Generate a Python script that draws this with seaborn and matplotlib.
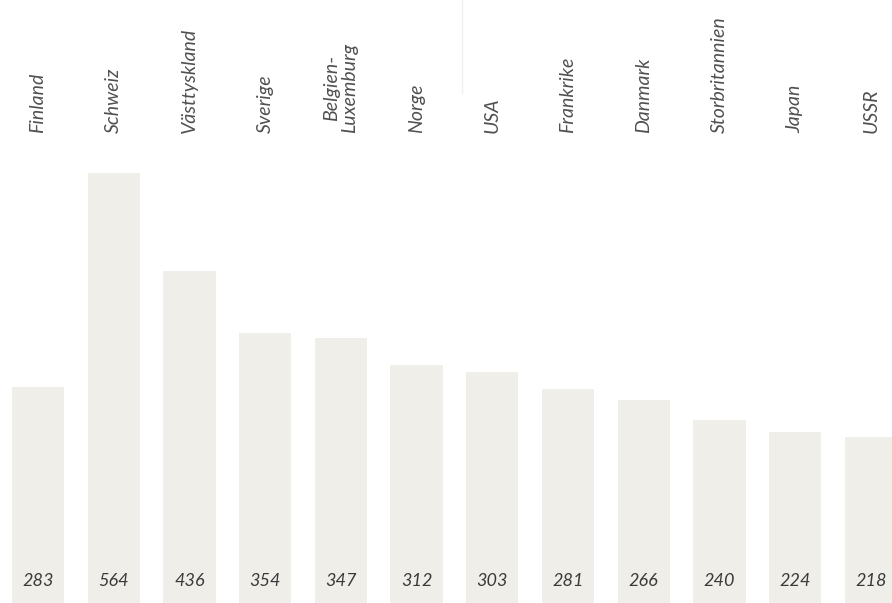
import matplotlib
matplotlib.use('Agg')
import matplotlib.pyplot as plt
import seaborn as sns
import pandas as pd

countries = ['Finland', 'Schweiz', 'Västtyskland', 'Sverige', 'Belgien-\nLuxemburg', 'Norge',
             'USA', 'Frankrike', 'Danmark', 'Storbritannien', 'Japan', 'USSR']
values = [283, 564, 436, 354, 347, 312, 303, 281, 266, 240, 224, 218]

df = pd.DataFrame({'land': countries, 'varde': values})

sns.set_theme(style='white')
plt.rcParams['font.family'] = ['Lato', 'DejaVu Sans']

fig = plt.figure(figsize=(8.92, 6.03), dpi=100)
ax = fig.add_axes([0, 0, 1, 1])

sns.barplot(data=df, x='land', y='varde', color='#efeee9', saturation=1,
            width=0.69, edgecolor='none', ax=ax)

ax.set_xlim(-0.502, 11.28)
ax.set_ylim(0, 791)
ax.axis('off')

# faint rule at the top between Norge and USA
ax.axvline(5.6, ymin=0.845, ymax=1, color='#f0f0f0', lw=1)

for i, (name, v) in enumerate(zip(countries, values)):
    ax.text(i, 617, name, rotation=90, ha='center', va='bottom', fontsize=14,
            style='italic', color='#505050', linespacing=1.1)
    ax.text(i, 29, str(v), ha='center', va='center', fontsize=13,
            style='italic', color='#3a3a3a')

fig.savefig('out.png', dpi=100, facecolor='white')
